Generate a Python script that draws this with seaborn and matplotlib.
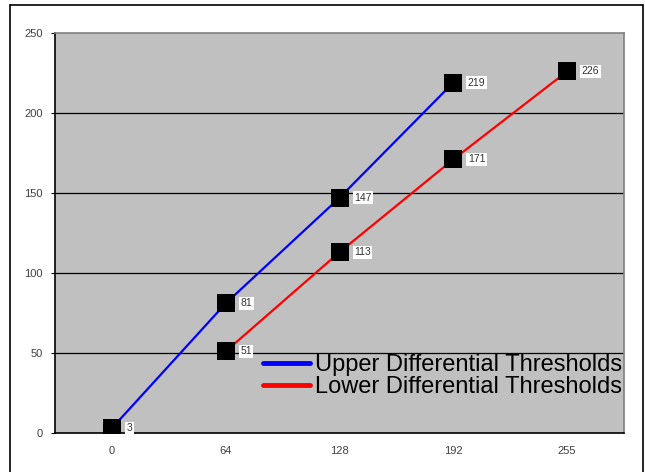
import matplotlib
matplotlib.use("Agg")
import matplotlib.pyplot as plt
import seaborn as sns
import pandas as pd
import numpy as np
from matplotlib.lines import Line2D

categories = ["0", "64", "128", "192", "255"]
upper_cats = ["0", "64", "128", "192"]
upper_vals = [3, 81, 147, 219]
lower_cats = ["64", "128", "192", "255"]
lower_vals = [51, 113, 171, 226]
series_names = ["Upper Differential Thresholds", "Lower Differential Thresholds"]
series_colors = ["#0000FF", "#FF0000"]

sns.set_theme(style="white")
plt.rcParams['font.family'] = ['Liberation Sans', 'DejaVu Sans']

pos = {c: i + 0.5 for i, c in enumerate(categories)}
df = pd.concat([
    pd.DataFrame({"x": [pos[c] for c in upper_cats], "y": upper_vals, "series": series_names[0]}),
    pd.DataFrame({"x": [pos[c] for c in lower_cats], "y": lower_vals, "series": series_names[1]}),
])

fig = plt.figure(figsize=(6.45, 4.72), dpi=100)
W, H = 645, 472
ax = fig.add_axes([55 / W, 1 - 433 / H, 569 / W, 400 / H])
ax.set_facecolor("#C0C0C0")

# gridlines
for v in [50, 100, 150, 200]:
    ax.axhline(v, color="black", lw=0.9, zorder=1)

sns.lineplot(data=df, x="x", y="y", hue="series", palette=series_colors,
             linewidth=1.6, ax=ax, legend=False, zorder=2, sort=False)
sns.scatterplot(data=df, x="x", y="y", color="black", marker="s", s=150,
                edgecolor="black", linewidth=0, ax=ax, legend=False, zorder=3)

for _, r in df.iterrows():
    ax.annotate(str(int(r["y"])), (r["x"], r["y"]), xytext=(10.5, 0), textcoords="offset points",
                va="center", ha="left", fontsize=7.5, color="#333333", zorder=4,
                bbox=dict(boxstyle="square,pad=0.15", fc="white", ec="none"))

ax.set_xlim(0, 5)
ax.set_ylim(0, 250)
ax.set_yticks([0, 50, 100, 150, 200, 250])
ax.set_yticklabels(["0", "50", "100", "150", "200", "250"])
ax.set_xticks([1, 2, 3, 4])
ax.set_xticklabels([])
ax.set_xticks([pos[c] for c in categories], minor=True)
ax.set_xticklabels(categories, minor=True)
ax.tick_params(axis="x", which="major", direction="in", length=3, color="black", width=0.8)
ax.tick_params(axis="x", which="minor", length=0, pad=9, labelsize=8, labelcolor="#404040")
ax.tick_params(axis="y", direction="out", length=3, color="black", width=0.8, pad=6,
               labelsize=8, labelcolor="#404040", left=True)
ax.set_xlabel("")
ax.set_ylabel("")

for s in ["left", "bottom"]:
    ax.spines[s].set_color("black")
    ax.spines[s].set_linewidth(1.2)
for s in ["top", "right"]:
    ax.spines[s].set_color("#808080")
    ax.spines[s].set_linewidth(1.2)

handles = [Line2D([], [], color=c, lw=3.5) for c in series_colors]
leg = ax.legend(handles, series_names, loc="lower right", bbox_to_anchor=(0.997, 0.088),
                frameon=False, fontsize=17, handlelength=2.0, handletextpad=0.2,
                labelspacing=0.0, borderpad=0, borderaxespad=0)
for t in leg.get_texts():
    t.set_color("black")

# outer frame
fig.add_artist(Line2D([10 / W, 10 / W], [0, 1 - 5 / H], color="black", lw=1.2, transform=fig.transFigure))
fig.add_artist(Line2D([10 / W, 643 / W], [1 - 5 / H, 1 - 5 / H], color="black", lw=1.2, transform=fig.transFigure))
fig.add_artist(Line2D([643 / W, 643 / W], [0, 1 - 5 / H], color="black", lw=1.2, transform=fig.transFigure))

fig.savefig("out.png", dpi=100)
